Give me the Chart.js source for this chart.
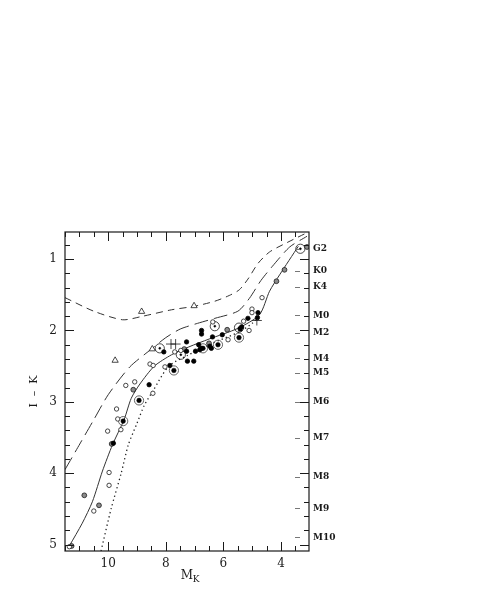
<!DOCTYPE html>
<html>
<head>
<meta charset="utf-8">
<script src="https://cdn.jsdelivr.net/npm/chart.js@4.4.0/dist/chart.umd.min.js"></script>
<style>
  body { margin: 0; background: #fff; }
  #wrap { width: 480px; height: 599px; }
</style>
</head>
<body>
<div id="wrap"><canvas id="chart" width="480" height="599"></canvas></div>
<script>
// ---- data (M_K, I-K) ----
const xTickLabels = [4, 6, 8, 10];
const yTickLabels = [1, 2, 3, 4, 5];

const spTypes = ['G2', 'K0', 'K4', 'M0', 'M2', 'M4', 'M5', 'M6', 'M7', 'M8', 'M9', 'M10'];
const spIK    = [0.855, 1.16, 1.384, 1.79, 2.03, 2.39, 2.59, 3.0, 3.50, 4.05, 4.49, 4.90];

// model sequences
const upperDashed = [[11.5,1.54],[10.5,1.73],[9.5,1.85],[8.8,1.80],[7.8,1.71],[7.0,1.66],[6.3,1.59],
  [5.8,1.51],[5.45,1.43],[5.15,1.28],[4.8,1.06],[4.4,0.90],[3.8,0.77],[3.1,0.63]];
const longDashed = [[11.5,3.95],[11.1,3.67],[10.5,3.25],[10.0,2.90],[9.25,2.51],[8.5,2.26],[8.0,2.10],
  [7.5,1.98],[6.9,1.90],[6.3,1.83],[5.5,1.73],[5.1,1.55],[4.7,1.30],[4.3,1.10],[3.7,0.83],[3.1,0.68]];
const solidSeq = [[11.35,5.02],[10.9,4.70],[10.55,4.40],[10.2,3.97],[9.85,3.60],[9.45,3.25],[9.2,2.95],
  [8.9,2.75],[8.4,2.50],[7.8,2.34],[7.2,2.23],[6.5,2.12],[5.5,1.97],[4.75,1.78],[4.4,1.45],[4.05,1.22],[3.4,0.82]];
const dottedSeq = [[10.25,5.09],[9.9,4.50],[9.55,4.00],[9.3,3.60],[9.0,3.30],[8.75,3.05],[8.45,2.85],
  [7.9,2.50],[7.25,2.35],[6.4,2.18],[5.45,2.02],[5.0,1.90],[4.75,1.80]];

// observed stars
const openStars = [[4.66,1.54],[5.01,1.70],[5.01,1.75],[5.30,1.87],[5.11,2.00],[5.84,2.13],[6.37,1.88],
  [7.48,2.28],[7.69,2.30],[8.55,2.47],[8.44,2.49],[8.03,2.51],[8.45,2.88],[9.39,2.77],[9.08,2.72],
  [9.71,3.10],[9.67,3.24],[9.56,3.39],[10.02,3.41],[9.97,3.99],[9.97,4.17],[10.50,4.53],[11.35,5.03]];
const filledStars = [[4.80,1.75],[4.82,1.82],[5.15,1.83],[5.37,1.95],[5.42,1.98],[6.04,2.06],[6.38,2.09],
  [6.76,2.00],[6.76,2.05],[6.86,2.20],[6.76,2.25],[6.82,2.27],[6.47,2.22],[6.42,2.25],[6.97,2.29],
  [7.28,2.16],[7.28,2.29],[7.25,2.43],[7.03,2.43],[8.07,2.30],[7.86,2.49],[8.58,2.76],[9.82,3.58]];
const greyStars = [[3.10,0.83],[3.88,1.15],[4.16,1.31],[5.87,1.99],[6.50,2.18],[7.36,2.26],[9.13,2.83],
  [9.88,3.59],[10.83,4.31],[10.32,4.45],[11.27,5.02]];
const ringDot = [[3.33,0.855],[5.46,1.96],[6.30,1.94],[8.21,2.25],[7.48,2.34]];
const ringFilled = [[5.46,2.10],[6.19,2.20],[6.71,2.25],[7.72,2.56],[8.93,2.98],[9.48,3.27]];
const triangles = [[8.84,1.735],[7.02,1.655],[9.76,2.42],[8.47,2.26]];
const plusStars = [[4.84,1.86],[7.82,2.19],[7.66,2.19]];

const xMin = 3.03, xMax = 11.5, yMin = 0.62, yMax = 5.09;
const ink = '#1a1a1a';
const serif = '"DejaVu Serif", "Liberation Serif", serif';

const pts = arr => arr.map(p => ({ x: p[0], y: p[1] }));

function lineSet(arr, dash, width, color) {
  return { data: pts(arr), showLine: true, pointRadius: 0, borderColor: color || '#333',
    borderWidth: width || 1, borderDash: dash, tension: 0.25, fill: false, order: 10 };
}
function markSet(arr, style, r, bg, border, bw) {
  return { data: pts(arr), showLine: false, pointStyle: style, pointRadius: r,
    pointBackgroundColor: bg, pointBorderColor: border, pointBorderWidth: bw, order: 1 };
}

// inward ticks, box, spectral dashes and axis titles
const framePlugin = {
  id: 'frame',
  afterDraw(chart) {
    const { ctx, chartArea: a, scales } = chart;
    const sx = scales.x, sy = scales.y;
    ctx.save();
    ctx.strokeStyle = ink;
    ctx.lineWidth = 1.2;
    ctx.strokeRect(a.left, a.top, a.right - a.left, a.bottom - a.top);

    ctx.lineWidth = 1;
    ctx.beginPath();
    for (let v = 3.5; v <= 11.5; v += 0.5) {
      const px = Math.round(sx.getPixelForValue(v)) + 0.5;
      const len = (Math.abs(v % 2) < 1e-6) ? 9 : 5;
      ctx.moveTo(px, a.bottom); ctx.lineTo(px, a.bottom - len);
      ctx.moveTo(px, a.top); ctx.lineTo(px, a.top + len);
    }
    for (let i = 4; i <= 25; i++) {
      const v = i / 5;
      const py = Math.round(sy.getPixelForValue(v)) + 0.5;
      const len = (i % 5 === 0) ? 9 : 5;
      ctx.moveTo(a.left, py); ctx.lineTo(a.left + len, py);
      ctx.moveTo(a.right, py); ctx.lineTo(a.right - len, py);
    }
    ctx.stroke();

    // spectral type marks
    ctx.strokeStyle = '#777';
    ctx.beginPath();
    spIK.forEach(v => {
      const py = Math.round(sy.getPixelForValue(v)) + 0.5;
      ctx.moveTo(a.right - 14, py); ctx.lineTo(a.right - 9, py);
    });
    ctx.stroke();

    // axis titles
    ctx.fillStyle = ink;
    ctx.font = '12px ' + serif;
    ctx.textAlign = 'center';
    ctx.textBaseline = 'middle';
    const cx = (a.left + a.right) / 2 + 4;
    ctx.fillText('M', cx - 4, 576);
    ctx.font = '9px ' + serif;
    ctx.fillText('K', cx + 5, 580);
    ctx.save();
    ctx.translate(34, (a.top + a.bottom) / 2);
    ctx.rotate(-Math.PI / 2);
    ctx.font = '11px ' + serif;
    ctx.fillText('I  \u2013  K', 0, 0);
    ctx.restore();
    ctx.restore();
  }
};

new Chart(document.getElementById('chart'), {
  type: 'scatter',
  data: {
    datasets: [
      lineSet(upperDashed, [7, 5]),
      lineSet(longDashed, [14, 6]),
      lineSet(solidSeq, []),
      lineSet(dottedSeq, [1.3, 3], 1.3, '#222'),
      markSet(openStars, 'circle', 2.2, '#fff', ink, 0.8),
      markSet(filledStars, 'circle', 2.2, '#000', '#000', 0.8),
      markSet(greyStars, 'circle', 2.4, '#8a8a8a', ink, 0.8),
      markSet(ringDot, 'circle', 1, '#000', '#000', 0.5),
      markSet(ringDot, 'circle', 4.6, 'rgba(0,0,0,0)', ink, 0.8),
      markSet(ringFilled, 'circle', 2.3, '#000', '#000', 0.5),
      markSet(ringFilled, 'circle', 4.6, 'rgba(0,0,0,0)', '#555', 0.9),
      markSet(triangles, 'triangle', 3.6, '#fff', ink, 0.8),
      markSet(plusStars, 'cross', 5, '#000', ink, 0.8)
    ]
  },
  options: {
    responsive: false,
    devicePixelRatio: 1,
    animation: false,
    layout: { padding: { top: 232, left: 0, right: 0, bottom: 0 } },
    plugins: { legend: { display: false }, tooltip: { enabled: false } },
    scales: {
      x: {
        type: 'linear', reverse: true, min: xMin, max: xMax,
        grid: { display: false, drawTicks: false }, border: { display: false },
        afterBuildTicks: s => { s.ticks = xTickLabels.map(v => ({ value: v })); },
        afterFit: s => { s.height = 48; },
        ticks: { color: ink, padding: 6, font: { family: serif, size: 12 } }
      },
      y: {
        type: 'linear', reverse: true, min: yMin, max: yMax, position: 'left',
        grid: { display: false, drawTicks: false }, border: { display: false },
        afterBuildTicks: s => { s.ticks = yTickLabels.map(v => ({ value: v })); },
        afterFit: s => { s.width = 65; },
        ticks: { color: ink, padding: 8, font: { family: serif, size: 12 } }
      },
      y2: {
        type: 'linear', reverse: true, min: yMin, max: yMax, position: 'right',
        grid: { display: false, drawTicks: false }, border: { display: false },
        afterBuildTicks: s => { s.ticks = spIK.map(v => ({ value: v })); },
        afterFit: s => { s.width = 171; },
        ticks: {
          color: ink, padding: 4, font: { family: serif, size: 9, weight: 'bold' },
          callback: (v, i) => spTypes[i]
        }
      }
    }
  },
  plugins: [framePlugin]
});
</script>
</body>
</html>
